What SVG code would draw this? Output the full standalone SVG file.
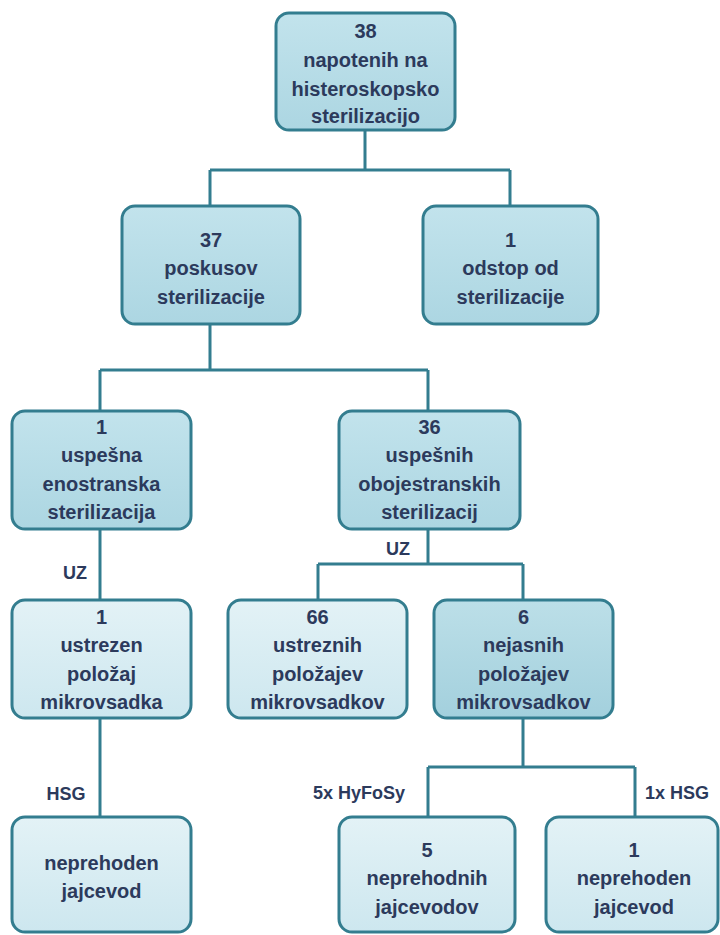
<svg xmlns="http://www.w3.org/2000/svg" width="720" height="935" viewBox="0 0 720 935">
<defs>
<linearGradient id="gMid" x1="0" y1="0" x2="0" y2="1"><stop offset="0" stop-color="#c2e3ec"/><stop offset="1" stop-color="#acd6e2"/></linearGradient>
<linearGradient id="gLight" x1="0" y1="0" x2="0" y2="1"><stop offset="0" stop-color="#e3f2f6"/><stop offset="1" stop-color="#cde7ef"/></linearGradient>
<linearGradient id="gDark" x1="0" y1="0" x2="0" y2="1"><stop offset="0" stop-color="#bcdfe8"/><stop offset="1" stop-color="#a3d0dd"/></linearGradient>
<style>
.box{stroke:#337d8f;stroke-width:3}
.mid{fill:url(#gMid)}
.light{fill:url(#gLight)}
.dark{fill:url(#gDark)}
.t{font-family:"Liberation Sans",Arial,sans-serif;font-weight:bold;font-size:20px;fill:#2c3a5c;text-anchor:middle}
.lbl{font-family:"Liberation Sans",Arial,sans-serif;font-weight:bold;font-size:18px;fill:#2c3a5c;text-anchor:middle}
.c{fill:none;stroke:#337d8f;stroke-width:3}
</style>
</defs>
<rect width="720" height="935" fill="#ffffff"/>
<g id="connectors">
<path class="c" d="M365,130V170M210,170H510M210,170V206M510,170V206"/>
<path class="c" d="M210,324V370M100,370H428M100,370V411M428,370V411"/>
<path class="c" d="M100,529V600"/>
<path class="c" d="M428,529V564M318,564H523M318,564V600M523,564V600"/>
<path class="c" d="M100,718V817"/>
<path class="c" d="M523,718V767M428,767H635M428,767V817M635,767V817"/>
<text class="lbl" x="75" y="579">UZ</text>
<text class="lbl" x="398" y="555">UZ</text>
<text class="lbl" x="66" y="800">HSG</text>
<text class="lbl" x="359" y="799">5x HyFoSy</text>
<text class="lbl" x="677" y="799">1x HSG</text>
</g>
<g id="n38">
<rect class="box mid" x="276" y="13" width="179" height="117" rx="13"/>
<text class="t"><tspan x="365.5" y="38">38</tspan><tspan x="365.5" y="67">napotenih na</tspan><tspan x="365.5" y="96">histeroskopsko</tspan><tspan x="365.5" y="123">sterilizacijo</tspan></text>
</g>
<g id="n37">
<rect class="box mid" x="122" y="206" width="178" height="118" rx="13"/>
<text class="t"><tspan x="211" y="247">37</tspan><tspan x="211" y="275">poskusov</tspan><tspan x="211" y="304">sterilizacije</tspan></text>
</g>
<g id="n1odstop">
<rect class="box mid" x="423" y="206" width="175" height="118" rx="13"/>
<text class="t"><tspan x="510.5" y="247">1</tspan><tspan x="510.5" y="275">odstop od</tspan><tspan x="510.5" y="304">sterilizacije</tspan></text>
</g>
<g id="n1uspesna">
<rect class="box mid" x="12" y="411" width="179" height="118" rx="13"/>
<text class="t"><tspan x="101.5" y="434">1</tspan><tspan x="101.5" y="462">uspešna</tspan><tspan x="101.5" y="491">enostranska</tspan><tspan x="101.5" y="519">sterilizacija</tspan></text>
</g>
<g id="n36">
<rect class="box mid" x="339" y="411" width="181" height="118" rx="13"/>
<text class="t"><tspan x="429.5" y="434">36</tspan><tspan x="429.5" y="462">uspešnih</tspan><tspan x="429.5" y="491">obojestranskih</tspan><tspan x="429.5" y="519">sterilizacij</tspan></text>
</g>
<g id="n1ustrezen">
<rect class="box light" x="12" y="600" width="179" height="118" rx="13"/>
<text class="t"><tspan x="101.5" y="624">1</tspan><tspan x="101.5" y="652">ustrezen</tspan><tspan x="101.5" y="681">položaj</tspan><tspan x="101.5" y="709">mikrovsadka</tspan></text>
</g>
<g id="n66">
<rect class="box light" x="228" y="600" width="179" height="118" rx="13"/>
<text class="t"><tspan x="317.5" y="624">66</tspan><tspan x="317.5" y="652">ustreznih</tspan><tspan x="317.5" y="681">položajev</tspan><tspan x="317.5" y="709">mikrovsadkov</tspan></text>
</g>
<g id="n6">
<rect class="box dark" x="434" y="600" width="179" height="118" rx="13"/>
<text class="t"><tspan x="523.5" y="624">6</tspan><tspan x="523.5" y="652">nejasnih</tspan><tspan x="523.5" y="681">položajev</tspan><tspan x="523.5" y="709">mikrovsadkov</tspan></text>
</g>
<g id="nNeprehodenL">
<rect class="box light" x="12" y="817" width="179" height="115" rx="13"/>
<text class="t"><tspan x="101.5" y="870">neprehoden</tspan><tspan x="101.5" y="898">jajcevod</tspan></text>
</g>
<g id="n5">
<rect class="box light" x="339" y="817" width="176" height="115" rx="13"/>
<text class="t"><tspan x="427" y="857">5</tspan><tspan x="427" y="885">neprehodnih</tspan><tspan x="427" y="914">jajcevodov</tspan></text>
</g>
<g id="n1R">
<rect class="box light" x="546" y="817" width="172" height="115" rx="13"/>
<text class="t"><tspan x="634" y="857">1</tspan><tspan x="634" y="885">neprehoden</tspan><tspan x="634" y="914">jajcevod</tspan></text>
</g>
</svg>
